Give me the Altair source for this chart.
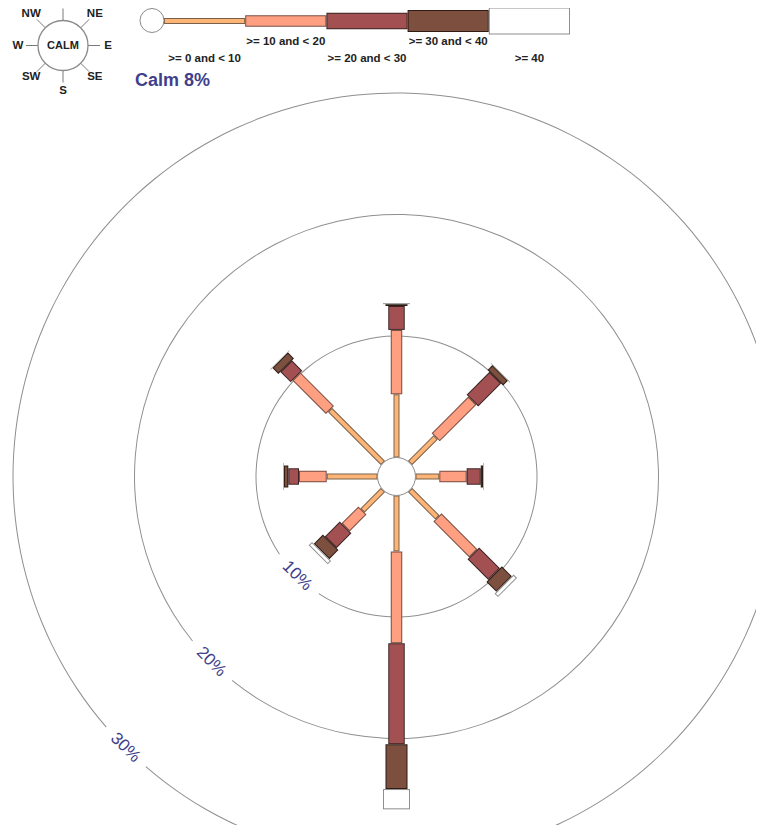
import altair as alt
import pandas as pd

# ---------------- data ----------------
DIRS = ["N", "NE", "E", "SE", "S", "SW", "W", "NW"]
ANGLES = [0, 45, 90, 135, 180, 225, 270, 315]
BINS = [">= 0 and < 10", ">= 10 and < 20", ">= 20 and < 30", ">= 30 and < 40", ">= 40"]
S0 = [5.2, 3.0, 1.96, 3.2, 4.6, 2.4, 4.18, 6.18]
S1 = [5.3, 4.27, 2.25, 4.18, 7.57, 1.96, 2.28, 3.9]
S2 = [1.97, 2.67, 1.16, 2.42, 8.31, 1.74, 0.88, 1.2]
S3 = [0.15, 0.56, 0.19, 1.16, 3.68, 1.06, 0.36, 0.7]
S4 = [0.08, 0.05, 0.05, 0.4, 1.67, 0.39, 0.05, 0.05]
SERIES = [S0, S1, S2, S3, S4]
CALM_PCT = 8
RING_PCTS = [10, 20, 30]

# ---------------- style / layout ----------------
FILLS = ["#FDB577", "#FD9F80", "#A35052", "#7C4F3E", "#FFFFFF"]
EDGES = ["#7a6048", "#7a4c40", "#3c2426", "#2c1c14", "#8e8e8e"]
WIDTHS = [6, 11.5, 16.5, 22, 27]
TEXT_BLUE = "#3f3f8c"
RING_GREY = "#8f8f8f"
FONT = "Liberation Sans"

PX = 12.15            # pixels per percent
CX, CY = 396.5, 476.5  # rose centre (page px)
M = 8                  # page margin
W, H = 748, 817
CALM_R = 19 / PX
EDGE = 1 / PX
GAP = 28
LABEL_DEG = 225
LEG_DY = 8

xs = alt.Scale(domain=[(M - CX) / PX, (M + W - CX) / PX], nice=False, zero=False)
ys = alt.Scale(domain=[(CY - M - H) / PX, (CY - M) / PX], nice=False, zero=False)
rs = alt.Scale(type="linear", domain=[0, 40], range=[0, 40 * PX], zero=True)

wexpr = "[" + ",".join(str(w) for w in WIDTHS) + "][datum.order]"

# ---------------- rings ----------------
rings_df = pd.DataFrame({"pct": RING_PCTS})
rings = alt.Chart(rings_df).transform_calculate(
    cx="0", cy="0",
    r=f"{CALM_R} + datum.pct",
    ro=f"datum.r + {0.5 / PX}",
    ri=f"datum.r - {0.5 / PX}",
    gap=f"{GAP} / ({PX} * datum.r)",
    t1=f"{LABEL_DEG} * PI / 180 + datum.gap",
    t2=f"{LABEL_DEG} * PI / 180 + 2 * PI - datum.gap",
).mark_arc(color=RING_GREY, clip=True).encode(
    x=alt.X("cx:Q", scale=xs, axis=None),
    y=alt.Y("cy:Q", scale=ys, axis=None),
    radius=alt.Radius("ro:Q", scale=rs),
    radius2="ri:Q",
    theta=alt.Theta("t1:Q", scale=None, stack=False),
    theta2="t2:Q",
)

ring_labels = alt.Chart(rings_df).transform_calculate(
    r=f"{CALM_R} + datum.pct",
    a=f"{LABEL_DEG} * PI / 180",
    lx="datum.r * sin(datum.a)",
    ly="datum.r * cos(datum.a)",
    label="datum.pct + '%'",
).mark_text(angle=45, fontSize=17, color=TEXT_BLUE, font=FONT,
            align="center", baseline="middle").encode(
    x=alt.X("lx:Q", scale=xs, axis=None),
    y=alt.Y("ly:Q", scale=ys, axis=None),
    text="label:N",
)

# ---------------- spokes ----------------
rows = []
for bi, (b, vals) in enumerate(zip(BINS, SERIES)):
    for d, a, v in zip(DIRS, ANGLES, vals):
        rows.append({"dir": d, "angle": a, "bin": b, "order": bi, "pct": v})
spokes_df = pd.DataFrame(rows)

spokes = alt.Chart(spokes_df).transform_window(
    cum="sum(pct)", groupby=["dir"], sort=[alt.SortField("order")], frame=[None, 0]
).transform_calculate(
    a="datum.angle * PI / 180",
    r0=f"{CALM_R} + datum.cum - datum.pct",
    r1=f"{CALM_R} + datum.cum",
    mid="(datum.r0 + datum.r1) / 2",
    f0=f"min(datum.r0 + {EDGE}, datum.mid)",
    f1=f"max(datum.r1 - {EDGE}, datum.mid)",
    x0="datum.r0 * sin(datum.a)", y0="datum.r0 * cos(datum.a)",
    x1="datum.r1 * sin(datum.a)", y1="datum.r1 * cos(datum.a)",
    fx0="datum.f0 * sin(datum.a)", fy0="datum.f0 * cos(datum.a)",
    fx1="datum.f1 * sin(datum.a)", fy1="datum.f1 * cos(datum.a)",
    sw=wexpr,
    fw=f"{wexpr} - 2",
)

spoke_edge = spokes.mark_rule(strokeCap="butt").encode(
    x=alt.X("x0:Q", scale=xs, axis=None), y=alt.Y("y0:Q", scale=ys, axis=None),
    x2="x1:Q", y2="y1:Q",
    color=alt.Color("bin:N", scale=alt.Scale(domain=BINS, range=EDGES), legend=None),
    strokeWidth=alt.StrokeWidth("sw:Q", scale=None),
)
spoke_fill = spokes.mark_rule(strokeCap="butt").encode(
    x=alt.X("fx0:Q", scale=xs, axis=None), y=alt.Y("fy0:Q", scale=ys, axis=None),
    x2="fx1:Q", y2="fy1:Q",
    color=alt.Color("bin:N", scale=alt.Scale(domain=BINS, range=FILLS), legend=None),
    strokeWidth=alt.StrokeWidth("fw:Q", scale=None),
)

# ---------------- calm ----------------
calm_df = pd.DataFrame({"pct": [CALM_PCT]})
calm_circle = alt.Chart(calm_df).transform_calculate(
    cx="0", cy="0", r=f"{CALM_R}", t1="0", t2="2 * PI"
).mark_arc(fill="white", stroke="#8a8a8a", strokeWidth=1).encode(
    x=alt.X("cx:Q", scale=xs, axis=None),
    y=alt.Y("cy:Q", scale=ys, axis=None),
    radius=alt.Radius("r:Q", scale=rs),
    theta=alt.Theta("t1:Q", scale=None, stack=False),
    theta2="t2:Q",
)
calm_text = alt.Chart(calm_df).transform_calculate(
    label="'Calm ' + datum.pct + '%'"
).mark_text(align="left", baseline="middle", fontSize=18, fontWeight="bold",
            color=TEXT_BLUE, font=FONT).encode(
    x=alt.value(135 - M), y=alt.value(81 - M), text="label:N"
)

# ---------------- speed legend ----------------
LEG_X0, LEG_STEP, LEG_Y = 164, 81.2, 13
leg_df = pd.DataFrame({"bin": BINS, "order": list(range(len(BINS)))})
leg = alt.Chart(leg_df).transform_calculate(
    lx0=f"{LEG_X0 - M} + datum.order * {LEG_STEP}",
    lx1=f"datum.lx0 + {LEG_STEP}",
    fx0="datum.lx0 + 1",
    fx1="datum.lx1 - 1",
    ly=f"{LEG_Y - M + LEG_DY}",
    tx="(datum.lx0 + datum.lx1) / 2",
    ty=f"datum.order % 2 == 0 ? {51 - M + LEG_DY} : {34 - M + LEG_DY}",
    sw=wexpr,
    fw=f"{wexpr} - 2",
)
leg_edge = leg.mark_rule(strokeCap="butt").encode(
    x=alt.X("lx0:Q", scale=None, axis=None), x2="lx1:Q",
    y=alt.Y("ly:Q", scale=None, axis=None),
    color=alt.Color("bin:N", scale=alt.Scale(domain=BINS, range=EDGES), legend=None),
    strokeWidth=alt.StrokeWidth("sw:Q", scale=None),
)
leg_fill = leg.mark_rule(strokeCap="butt").encode(
    x=alt.X("fx0:Q", scale=None, axis=None), x2="fx1:Q",
    y=alt.Y("ly:Q", scale=None, axis=None),
    color=alt.Color("bin:N", scale=alt.Scale(domain=BINS, range=FILLS), legend=None),
    strokeWidth=alt.StrokeWidth("fw:Q", scale=None),
)
leg_text = leg.mark_text(fontSize=11.5, fontWeight="bold", font=FONT, color="#222222",
                         align="center", baseline="middle").encode(
    x=alt.X("tx:Q", scale=None, axis=None), y=alt.Y("ty:Q", scale=None, axis=None),
    text="bin:N",
)
leg_circle = alt.Chart(calm_df).mark_arc(fill="white", stroke="#8a8a8a", strokeWidth=1).encode(
    x=alt.value(152 - M), y=alt.value(12.5 - M + LEG_DY),
    radius=alt.value(12), theta=alt.value(0), theta2=alt.value(6.2832),
)

# ---------------- compass icon ----------------
CCX, CCY = 63 - M, 37.5 - M + LEG_DY
comp_df = pd.DataFrame({"dir": DIRS, "angle": ANGLES})
comp = alt.Chart(comp_df).transform_calculate(
    a="datum.angle * PI / 180",
    tx0=f"{CCX} + 25 * sin(datum.a)", ty0=f"{CCY} - 25 * cos(datum.a)",
    tx1=f"{CCX} + 37 * sin(datum.a)", ty1=f"{CCY} - 37 * cos(datum.a)",
    lx=f"{CCX} + 45 * sin(datum.a)", ly=f"{CCY} - 45 * cos(datum.a)",
)
comp_ticks = comp.mark_rule(color="#7a7a7a", strokeWidth=1).encode(
    x=alt.X("tx0:Q", scale=None, axis=None), y=alt.Y("ty0:Q", scale=None, axis=None),
    x2="tx1:Q", y2="ty1:Q",
)
comp_labels = comp.transform_filter("datum.angle != 0").mark_text(
    fontSize=11.5, fontWeight="bold", font=FONT, color="#222222",
    align="center", baseline="middle").encode(
    x=alt.X("lx:Q", scale=None, axis=None), y=alt.Y("ly:Q", scale=None, axis=None),
    text="dir:N",
)
comp_circle = alt.Chart(calm_df).mark_arc(fill="white", stroke="#8a8a8a", strokeWidth=1.3).encode(
    x=alt.value(CCX), y=alt.value(CCY),
    radius=alt.value(25), theta=alt.value(0), theta2=alt.value(6.2832),
)
comp_text = alt.Chart(calm_df).mark_text(fontSize=11, fontWeight="bold", font=FONT,
                                         color="#222222", align="center", baseline="middle").encode(
    x=alt.value(CCX), y=alt.value(CCY), text=alt.value("CALM"),
)

chart = alt.layer(
    rings, ring_labels, spoke_edge, spoke_fill, calm_circle, calm_text,
    leg_edge, leg_fill, leg_circle, leg_text,
    comp_ticks, comp_circle, comp_text, comp_labels,
).resolve_scale(
    x="independent", y="independent", color="independent",
    strokeWidth="independent", radius="independent", theta="independent",
).properties(
    width=W, height=H, padding=0, autosize=alt.AutoSizeParams(type="none"),
    background="white",
).configure_view(strokeWidth=0)

chart.save("out.html", embed_options={"renderer": "svg", "actions": False})
